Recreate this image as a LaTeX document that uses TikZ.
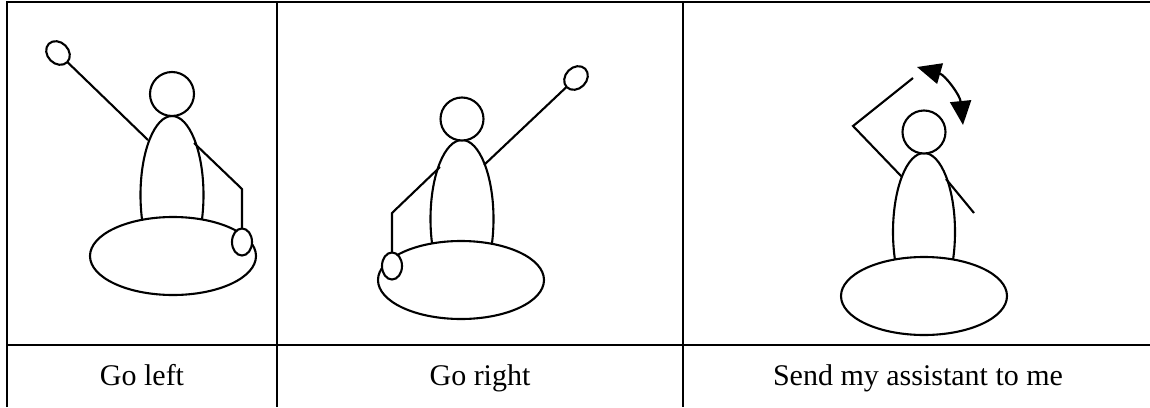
\documentclass[tikz,border=0pt]{standalone}
\usepackage{fontspec}
\setmainfont{Liberation Serif}
\usepackage{tikz}
\usetikzlibrary{arrows.meta}

\begin{document}
\begin{tikzpicture}[
    x=0.5pt, y=-0.5pt,
    rule/.style={line width=1.2pt},
    outline/.style={line width=1.05pt},
    filled/.style={outline,fill=white},
    caption/.style={anchor=base,font=\fontsize{15}{18}\selectfont},
    >={Triangle[length=12pt,width=10.5pt]}]
  \useasboundingbox (0,0) rectangle (1150,407);
  % table rules
  \draw[rule] (7,407) -- (7,2) -- (1150,2);
  \draw[rule] (277,2) -- (277,407);
  \draw[rule] (683,2) -- (683,407);
  \draw[rule] (7,345) -- (1150,345);
  % captions
  \node[caption] (goleft) at (142,385) {Go left};
  \node[caption] (goright) at (480,385) {Go right};
  \node[caption] (send) at (918,385) {Send my assistant to me};

  % left arm up
  \draw[outline] (172,195) ellipse [x radius=31.5, y radius=79];
  \draw[filled] (173,256) ellipse [x radius=83, y radius=39];
  \draw[filled] (172,94) circle [radius=22];
  \coordinate (hand1a) at (58,53);
  \coordinate (hand1b) at (242,242);
  \draw[outline] (hand1a) -- (148,140);
  \draw[outline] (194,143) -- (242,189) -- (hand1b);
  \draw[filled,rotate around={-45:(hand1a)}] (hand1a) ellipse [x radius=13, y radius=10.5];
  \draw[filled] (hand1b) ellipse [x radius=10, y radius=13.5];

  % right arm up
  \draw[outline] (462,219) ellipse [x radius=31.5, y radius=79];
  \draw[filled] (461,280) ellipse [x radius=83, y radius=39];
  \draw[filled] (462,119) circle [radius=21.5];
  \coordinate (hand2a) at (576,78);
  \coordinate (hand2b) at (392,266);
  \draw[outline] (484,165) -- (hand2a);
  \draw[outline] (440,167) -- (392,213) -- (hand2b);
  \draw[filled,rotate around={45:(hand2a)}] (hand2a) ellipse [x radius=13, y radius=10.5];
  \draw[filled] (hand2b) ellipse [x radius=10, y radius=13.5];

  % hand waving over the head
  \draw[outline] (924,232) ellipse [x radius=31, y radius=79];
  \draw[filled] (924,296) ellipse [x radius=83, y radius=39];
  \draw[filled] (924,132) circle [radius=21.5];
  \draw[outline] (902,177) -- (853,126) -- (913,78);
  \draw[outline] (946,179) -- (974,213);
  \coordinate (wave1) at (917,67);
  \coordinate (wave2) at (963,125);
  \draw[<->,line width=1.1pt] (wave1) .. controls (945,75) and (960,95) .. (wave2);
\end{tikzpicture}
\end{document}
